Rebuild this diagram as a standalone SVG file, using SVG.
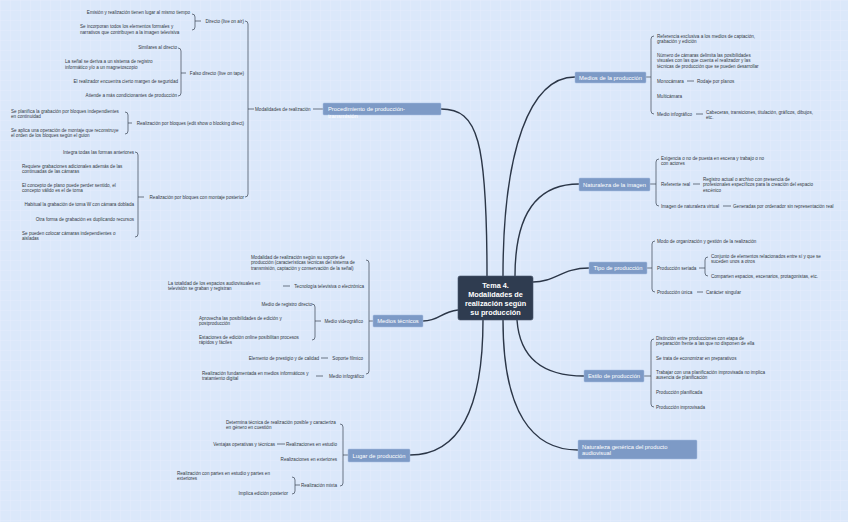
<svg xmlns="http://www.w3.org/2000/svg" width="848" height="522" viewBox="0 0 848 522">
<defs>
<pattern id="grid" width="10" height="10" patternUnits="userSpaceOnUse">
<path d="M10 0 L0 0 0 10" fill="none" stroke="#e6eefb" stroke-width="0.7"/>
</pattern>
<style>
text{font-family:"Liberation Sans",Arial,sans-serif}
.l{font-size:4.6px;fill:#333a44}
.r{text-anchor:end}
.t{font-size:5.8px;fill:#ffffff}
.c{text-anchor:middle}
.box{fill:#7d9ac6;stroke:#a6bce0;stroke-width:0.5}
.br{fill:none;stroke:#3a4352;stroke-width:0.7}
.m{fill:none;stroke:#2b3647;stroke-width:1.4}
.ctr{font-size:7.3px;font-weight:bold;fill:#ffffff;text-anchor:middle}
</style>
</defs>
<rect width="848" height="522" fill="#dbe8fa"/>
<rect width="848" height="522" fill="url(#grid)"/>

<g id="connectors">
<path class="m" d="M441 109 C478 109 487 140 487 276"/>
<path class="m" d="M503 276 C503 150 530 77 575 77"/>
<path class="m" d="M515 276 C515 210 540 184 579 184"/>
<path class="m" d="M533 282 C555 282 562 268 589 268"/>
<path class="m" d="M517 320 C520 362 548 376 584 376"/>
<path class="m" d="M503 320 C503 412 532 450 578 450"/>
<path class="m" d="M458 310 C440 312 440 321 423 321"/>
<path class="m" d="M483 320 C483 422 452 455 410 455"/>
<!-- left braces -->
<path class="br" d="M245 21 Q248 21 248 24 L248 194 Q248 197 245 197 M248 109 L254 109 M313 109 L323 109"/>
<path class="br" d="M192 14 Q195 14 195 17 L195 27 Q195 30 192 30 M195 21 L201 21"/>
<path class="br" d="M178 48 Q181 48 181 51 L181 93 Q181 96 178 96 M181 73 L186 73"/>
<path class="br" d="M125 112 Q128 112 128 115 L128 131 Q128 134 125 134 M128 123 L132 123"/>
<path class="br" d="M135 152 Q138 152 138 155 L138 234 Q138 237 135 237 M138 197 L144 197"/>
<path class="br" d="M366 260 Q369 260 369 263 L369 371 Q369 374 366 374 M369 321 L373 321"/>
<path class="br" d="M312 304 Q315 304 315 307 L315 337 Q315 340 312 340 M315 321 L321 321"/>
<path class="br" d="M340 424 Q343 424 343 427 L343 483 Q343 486 340 486 M343 455 L348 455"/>
<path class="br" d="M292 477 Q295 477 295 480 L295 491 Q295 494 292 494 M295 485 L300 485"/>
<path class="br" d="M283 286 L290 286 M321 358 L328 358 M316 376 L323 376 M277 444 L285 444"/>
<!-- right braces -->
<path class="br" d="M654 36 Q651 36 651 39 L651 111 Q651 114 654 114 M646 77 L651 77"/>
<path class="br" d="M659 159 Q656 159 656 162 L656 203 Q656 206 659 206 M650 184 L656 184"/>
<path class="br" d="M655 241 Q652 241 652 244 L652 289 Q652 292 655 292 M647 268 L652 268"/>
<path class="br" d="M708 257 Q705 257 705 260 L705 273 Q705 276 708 276 M699 268 L705 268"/>
<path class="br" d="M654 339 Q651 339 651 342 L651 404 Q651 407 654 407 M644 376 L651 376"/>
<path class="br" d="M687 81 L694 81 M696 114 L703 114 M693 184 L700 184 M723 206 L731 206 M697 292 L703 292"/>
</g>

<g id="center">
<rect x="458" y="276" width="75" height="44" rx="2" fill="#2f3c50" stroke="#46556c" stroke-width="0.6"/>
<text class="ctr" x="495.5" y="287.5">Tema 4.</text>
<text class="ctr" x="495.5" y="296.5">Modalidades de</text>
<text class="ctr" x="495.5" y="305.5">realización según</text>
<text class="ctr" x="495.5" y="314.5">su producción</text>
</g>

<g id="procedimiento">
<rect class="box" x="323" y="103" width="118" height="12" rx="1"/>
<text class="t" x="328" y="111">Procedimiento de producción-</text>
<text class="t" x="328" y="118">transmisión</text>
<text class="l" x="255" y="110.5">Modalidades de realización</text>
<text class="l r" x="244" y="22.5">Directo (live on air)</text>
<text class="l r" x="190" y="14">Emisión y realización tienen lugar al mismo tiempo</text>
<text class="l" x="80" y="28">Se incorporan todos los elementos formales y</text>
<text class="l" x="80" y="33.5">narrativos que contribuyen a la imagen televisiva</text>
<text class="l r" x="244" y="74.5">Falso directo (live on tape)</text>
<text class="l r" x="177" y="49">Similares al directo</text>
<text class="l" x="65" y="63">La señal se deriva a un sistema de registro</text>
<text class="l" x="65" y="68.5">informático y/o a un magnetoscopio</text>
<text class="l r" x="178" y="82.5">El realizador encuentra cierto margen de seguridad</text>
<text class="l r" x="177" y="97">Atiende a más condicionantes de producción</text>
<text class="l r" x="244" y="124.5">Realización por bloques (edit show o blocking direct)</text>
<text class="l" x="11" y="112.5">Se planifica la grabación por bloques independientes</text>
<text class="l" x="11" y="118">en continuidad</text>
<text class="l" x="11" y="131.5">Se aplica una operación de montaje que reconstruye</text>
<text class="l" x="11" y="137">el orden de los bloques según el guion</text>
<text class="l r" x="244" y="198.5">Realización por bloques con montaje posterior</text>
<text class="l r" x="134" y="153.5">Integra todas las formas anteriores</text>
<text class="l" x="22" y="167.5">Requiere grabaciones adicionales además de las</text>
<text class="l" x="22" y="173">continuadas de las cámaras</text>
<text class="l" x="22" y="186.5">El concepto de plano puede perder sentido, el</text>
<text class="l" x="22" y="192">concepto válido es el de toma</text>
<text class="l r" x="134" y="206">Habitual la grabación de toma W con cámara doblada</text>
<text class="l r" x="134" y="220.5">Otra forma de grabación es duplicando recursos</text>
<text class="l" x="22" y="234.5">Se pueden colocar cámaras independientes o</text>
<text class="l" x="22" y="240">aisladas</text>
</g>

<g id="medios-tecnicos">
<rect class="box" x="373" y="315" width="50" height="12" rx="1"/>
<text class="t c" x="398" y="323">Medios técnicos</text>
<text class="l" x="251" y="258.5">Modalidad de realización según su soporte de</text>
<text class="l" x="251" y="264">producción (características técnicas del sistema de</text>
<text class="l" x="251" y="269.5">transmisión, captación y conservación de la señal)</text>
<text class="l r" x="364" y="287.5">Tecnología televisiva o electrónica</text>
<text class="l" x="168" y="284.5">La totalidad de los espacios audiovisuales en</text>
<text class="l" x="168" y="290">televisión se graban y registran</text>
<text class="l r" x="363" y="322.5">Medio videográfico</text>
<text class="l r" x="312" y="305.5">Medio de registro directo</text>
<text class="l" x="199" y="319.5">Aprovecha las posibilidades de edición y</text>
<text class="l" x="199" y="325">postproducción</text>
<text class="l" x="199" y="338.5">Estaciones de edición online posibilitan procesos</text>
<text class="l" x="199" y="344">rápidos y fáciles</text>
<text class="l r" x="363" y="359.5">Soporte fílmico</text>
<text class="l r" x="319" y="359.5">Elemento de prestigio y de calidad</text>
<text class="l r" x="364" y="377.5">Medio infográfico</text>
<text class="l" x="202" y="374.5">Realización fundamentada en medios informáticos y</text>
<text class="l" x="202" y="380">tratamiento digital</text>
</g>

<g id="lugar">
<rect class="box" x="348" y="449" width="62" height="13" rx="1"/>
<text class="t c" x="379" y="457.5">Lugar de producción</text>
<text class="l" x="226" y="423.5">Determina técnica de realización posible y caracteriza</text>
<text class="l" x="226" y="429">en género en cuestión</text>
<text class="l r" x="337" y="445.5">Realizaciones en estudio</text>
<text class="l r" x="275" y="445.5">Ventajas operativas y técnicas</text>
<text class="l r" x="337" y="460.5">Realizaciones en exteriores</text>
<text class="l r" x="337" y="486.5">Realización mixta</text>
<text class="l" x="177" y="474.5">Realización con partes en estudio y partes en</text>
<text class="l" x="177" y="480">exteriores</text>
<text class="l r" x="288" y="494.5">Implica edición posterior</text>
</g>

<g id="medios-produccion">
<rect class="box" x="575" y="72" width="71" height="11" rx="1"/>
<text class="t c" x="610.5" y="79.5">Medios de la producción</text>
<text class="l" x="657" y="37.5">Referencia exclusiva a los medios de captación,</text>
<text class="l" x="657" y="43">grabación y edición</text>
<text class="l" x="657" y="56.5">Número de cámaras delimita las posibilidades</text>
<text class="l" x="657" y="62">visuales con las que cuenta el realizador y las</text>
<text class="l" x="657" y="67.5">técnicas de producción que se pueden desarrollar</text>
<text class="l" x="657" y="82.5">Monocámara</text>
<text class="l" x="697" y="82.5">Rodaje por planos</text>
<text class="l" x="657" y="97.5">Multicámara</text>
<text class="l" x="657" y="115.5">Medio infográfico</text>
<text class="l" x="706" y="113.5">Cabeceras, transiciones, titulación, gráficos, dibujos,</text>
<text class="l" x="706" y="119">etc.</text>
</g>

<g id="naturaleza-imagen">
<rect class="box" x="579" y="178" width="71" height="13" rx="1"/>
<text class="t c" x="614.5" y="186.5">Naturaleza de la imagen</text>
<text class="l" x="661" y="159.5">Exigencia o no de puesta en escena y trabajo o no</text>
<text class="l" x="661" y="165">con actores</text>
<text class="l" x="661" y="185.5">Referente real</text>
<text class="l" x="703" y="180.5">Registro actual o archivo con presencia de</text>
<text class="l" x="703" y="186">profesionales específicos para la creación del espacio</text>
<text class="l" x="703" y="191.5">escénico</text>
<text class="l" x="661" y="207.5">Imagen de naturaleza virtual</text>
<text class="l" x="733" y="207.5">Generadas por ordenador sin representación real</text>
</g>

<g id="tipo">
<rect class="box" x="589" y="262" width="58" height="12" rx="1"/>
<text class="t c" x="618" y="270">Tipo de producción</text>
<text class="l" x="657" y="242.5">Modo de organización y gestión de la realización</text>
<text class="l" x="657" y="269.5">Producción seriada</text>
<text class="l" x="711" y="257.5">Conjunto de elementos relacionados entre sí y que se</text>
<text class="l" x="711" y="263">suceden unos a otros</text>
<text class="l" x="711" y="277.5">Comparten espacios, escenarios, protagonistas, etc.</text>
<text class="l" x="657" y="293.5">Producción única</text>
<text class="l" x="706" y="293.5">Carácter singular</text>
</g>

<g id="estilo">
<rect class="box" x="584" y="370" width="60" height="12" rx="1"/>
<text class="t c" x="614" y="378">Estilo de producción</text>
<text class="l" x="656" y="339.5">Distinción entre producciones con etapa de</text>
<text class="l" x="656" y="345">preparación frente a las que no disponen de ella</text>
<text class="l" x="656" y="359.5">Se trata de economizar en preparativos</text>
<text class="l" x="656" y="373.5">Trabajar con una planificación improvisada no implica</text>
<text class="l" x="656" y="379">ausencia de planificación</text>
<text class="l" x="656" y="393.5">Producción planificada</text>
<text class="l" x="656" y="408.5">Producción improvisada</text>
</g>

<g id="naturaleza-generica">
<rect class="box" x="578" y="440" width="119" height="19" rx="1"/>
<text class="t" x="582" y="448.5">Naturaleza genérica del producto</text>
<text class="t" x="582" y="455">audiovisual</text>
</g>
</svg>
